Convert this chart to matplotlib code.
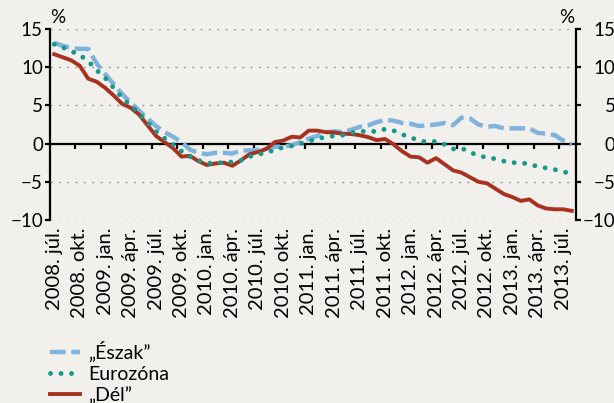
import matplotlib
matplotlib.use('Agg')
import matplotlib.pyplot as plt
import numpy as np

# ---------------------------------------------------------------------------
# Data: monthly values, 2008 júl. – 2013 aug. (%)
# ---------------------------------------------------------------------------

eszak = [13.2, 12.8, 12.5, 12.4, 12.4, 10.5, 9.1, 7.8, 6.5, 5.4,
         4.3, 3.3, 2.3, 1.5, 0.9, 0.2, -0.8, -1.2, -1.4, -1.2,
         -1.2, -1.3, -0.9, -0.9, -0.8, -0.65, -0.4, -0.4, -0.2, 0.2,
         0.65, 1.0, 1.5, 1.6, 1.5, 1.8, 2.2, 2.4, 2.8, 3.1,
         3.0, 2.7, 2.6, 2.3, 2.4, 2.5, 2.7, 2.4, 3.4, 3.3,
         2.5, 2.2, 2.3, 2.0, 2.0, 2.0, 2.0, 1.4, 1.3, 1.1,
         0.4, -0.1]

eurozona = [13.0, 12.6, 12.1, 11.6, 10.8, 9.6, 8.6, 7.3, 6.0, 5.0,
            4.0, 2.8, 1.6, 0.7, -0.1, -1.0, -1.7, -2.2, -2.6, -2.5,
            -2.5, -2.4, -2.2, -1.7, -1.4, -1.2, -0.8, -0.5, -0.3, 0.0,
            0.3, 0.65, 0.85, 1.0, 1.1, 1.4, 1.6, 1.6, 1.6, 1.9,
            1.7, 1.2, 0.8, 0.4, 0.2, 0.3, -0.1, -0.7, -0.6, -1.1,
            -1.6, -1.8, -2.0, -2.3, -2.5, -2.5, -2.7, -3.0, -3.2, -3.4,
            -3.7, -3.9]

del_ = [11.7, 11.3, 10.9, 10.2, 8.5, 8.1, 7.3, 6.3, 5.2, 4.7,
        3.8, 2.4, 1.0, 0.2, -0.6, -1.7, -1.6, -2.3, -2.8, -2.6,
        -2.5, -2.9, -2.2, -1.4, -1.1, -0.7, 0.2, 0.4, 0.9, 0.8,
        1.7, 1.7, 1.5, 1.45, 1.3, 1.25, 1.1, 0.85, 0.45, 0.6,
        -0.1, -1.0, -1.7, -1.8, -2.5, -1.9, -2.7, -3.5, -3.8, -4.4,
        -5.0, -5.2, -5.9, -6.6, -7.0, -7.5, -7.3, -8.1, -8.5, -8.6,
        -8.6, -8.8]

tick_labels = ['2008. júl.', '2008. okt.',
               '2009. jan.', '2009. ápr.', '2009. júl.', '2009. okt.',
               '2010. jan.', '2010. ápr.', '2010. júl.', '2010. okt.',
               '2011. jan.', '2011. ápr.', '2011. júl.', '2011. okt.',
               '2012. jan.', '2012. ápr.', '2012. júl.', '2012. okt.',
               '2013. jan.', '2013. ápr.', '2013. júl.']

series_names = ['„Észak”', 'Eurozóna', '„Dél”']

BG = '#f2f0ed'
COLORS = {'eszak': '#80b3dc', 'euro': '#14998a', 'del': '#a8321f'}

plt.rcParams['font.family'] = ['Lato', 'DejaVu Sans']
plt.rcParams['axes.unicode_minus'] = True

# ---------------------------------------------------------------------------
# Figure
# ---------------------------------------------------------------------------

fig = plt.figure(figsize=(6.14, 4.03), dpi=100, facecolor=BG)
ax = fig.add_axes([50 / 614, 1 - 220 / 403, 526 / 614, 191 / 403])
ax.set_facecolor(BG)

x = np.arange(len(eszak))

l1, = ax.plot(x, eszak, color=COLORS['eszak'], lw=3.2,
              linestyle=(0, (3.5, 1.3)), dash_capstyle='butt', zorder=3)
l3, = ax.plot(x, del_, color=COLORS['del'], lw=2.8, zorder=4)
l2, = ax.plot(x, eurozona, color=COLORS['euro'], lw=3.5,
              linestyle=(0, (0.01, 2.15)), dash_capstyle='round', zorder=5)

ax.set_xlim(-0.5, len(x) - 0.5)
ax.set_ylim(-10, 15)
ax.set_yticks(np.arange(-10, 16, 5))

# zero line with quarter ticks
ax.spines['bottom'].set_position(('data', 0))
ax.spines['top'].set_visible(False)
ax.spines['right'].set_visible(False)
for s in ('bottom', 'left'):
    ax.spines[s].set_linewidth(1.6)
    ax.spines[s].set_color('black')
ax.set_xticks(np.arange(2.5, len(x) - 1, 3))
ax.tick_params(axis='x', direction='out', length=3.5, width=1.6,
               labelbottom=False)
ax.tick_params(axis='y', direction='out', length=3.6, width=1.6,
               labelsize=13.5, pad=1.5)

ax.yaxis.grid(True, linestyle=(0, (1.5, 4.5)), color='#9a9a9a', lw=1.0)
ax.set_axisbelow(True)

# quarter labels at bottom
sec = ax.secondary_xaxis('bottom')
sec.set_xticks(x[::3][:len(tick_labels)], labels=tick_labels, rotation=90)
sec.tick_params(length=0, pad=5.5, labelsize=14.5)
sec.spines['bottom'].set_visible(False)

# right axis
ax2 = ax.twinx()
ax2.set_ylim(-10, 15)
ax2.set_yticks(np.arange(-10, 16, 5))
ax2.tick_params(axis='y', direction='out', length=3.6, width=1.6,
                labelsize=13.5, pad=25)
for t in ax2.get_yticklabels():
    t.set_horizontalalignment('right')
for s in ('top', 'left', 'bottom'):
    ax2.spines[s].set_visible(False)
ax2.spines['right'].set_linewidth(1.6)

ax.text(0.015, 1.058, '%', transform=ax.transAxes, ha='center',
        va='center', fontsize=13.5)
ax.text(0.983, 1.058, '%', transform=ax.transAxes, ha='center',
        va='center', fontsize=13.5)

fig.legend([l1, l2, l3], series_names, loc='upper left',
           bbox_to_anchor=(50 / 614, 1 - 341 / 403), frameon=False,
           fontsize=14, handlelength=1.55, handletextpad=0.4,
           labelspacing=0.18, borderpad=0, borderaxespad=0)

fig.savefig('out.png', dpi=100, facecolor=BG)
